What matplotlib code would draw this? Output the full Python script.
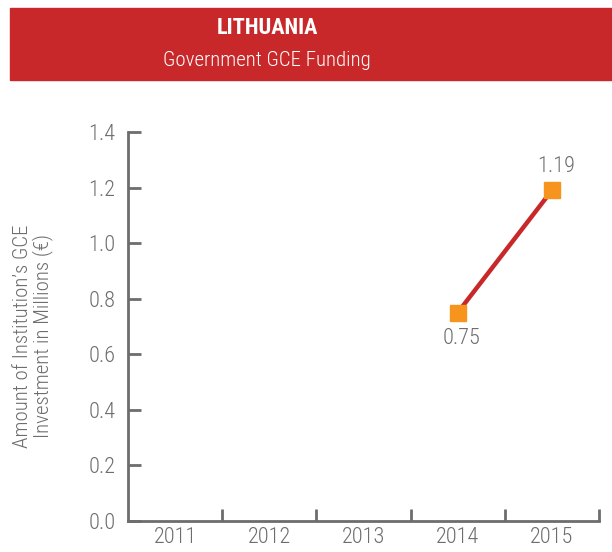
import matplotlib.pyplot as plt
from matplotlib.patches import Rectangle

plt.rcParams['font.family'] = ['Roboto Condensed', 'DejaVu Sans']

# funding per year (millions of euro); no data before 2014
years = ['2011', '2012', '2013', '2014', '2015']
funded_years = [3, 4]
funding = [0.75, 1.19]
value_labels = ['0.75', '1.19']

grey = '#6d6d6d'
red = '#c9282a'
orange = '#f7941d'

fig = plt.figure(figsize=(6.12, 5.52), dpi=100)

# header banner
fig.patches.append(Rectangle((10 / 612, 1 - 80 / 552), 1, 72 / 552,
                             transform=fig.transFigure, color=red, zorder=0))
fig.text(267 / 612, 1 - 28 / 552, 'LITHUANIA', color='white', fontsize=16,
         fontweight='bold', ha='center', va='center')
fig.text(267 / 612, 1 - 61 / 552, 'Government GCE Funding', color='white',
         fontsize=15, fontweight='light', ha='center', va='center')

ax = fig.add_axes([128 / 612, 31 / 552, 471 / 612, 389 / 552])
ax.plot(funded_years, funding, color=red, lw=3.2, zorder=2)
ax.plot(funded_years, funding, ls='none', marker='s', ms=11,
        color=orange, zorder=3)
ax.annotate(value_labels[0], (funded_years[0], funding[0]), xytext=(3, -19),
            textcoords='offset points', ha='center', va='center',
            color=grey, fontsize=16, fontweight='light')
ax.annotate(value_labels[1], (funded_years[1], funding[1]), xytext=(3, 17),
            textcoords='offset points', ha='center', va='center',
            color=grey, fontsize=16, fontweight='light')

ax.set_xlim(-0.5, 4.5)
ax.set_ylim(0, 1.4)
ax.set_yticks([0, 0.2, 0.4, 0.6, 0.8, 1.0, 1.2, 1.4])
ax.set_yticklabels(['0.0', '0.2', '0.4', '0.6', '0.8', '1.0', '1.2', '1.4'],
                   fontweight='light')
ax.set_xticks(range(len(years)))
ax.set_xticklabels(years, fontweight='light')
# category boundary ticks
ax.set_xticks([i + 0.5 for i in range(len(years))], minor=True)

for s in ['top', 'right']:
    ax.spines[s].set_visible(False)
for s in ['left', 'bottom']:
    ax.spines[s].set_color(grey)
    ax.spines[s].set_linewidth(2)

ax.tick_params(axis='y', direction='in', length=9, width=2, color=grey,
               labelcolor=grey, labelsize=16, pad=9)
ax.tick_params(axis='x', which='major', length=0, labelcolor=grey,
               labelsize=16, pad=4)
ax.tick_params(axis='x', which='minor', direction='in', length=9, width=2,
               color=grey)

ax.set_ylabel("Amount of Institution\u2019s GCE\nInvestment in Millions (\u20ac)",
              color=grey, fontsize=15, fontweight='light', linespacing=1.0)
ax.yaxis.set_label_coords(-0.16, 0.475)

fig.savefig('out.png', dpi=100)
